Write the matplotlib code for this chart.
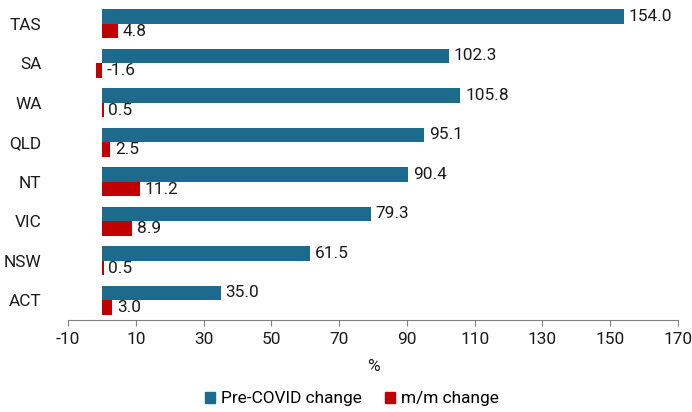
import matplotlib
matplotlib.use("Agg")
import matplotlib.pyplot as plt
import numpy as np
from matplotlib.patches import Patch

plt.rcParams['font.family'] = ['Roboto', 'DejaVu Sans']

states = ["TAS", "SA", "WA", "QLD", "NT", "VIC", "NSW", "ACT"]
pre_covid = [154.0, 102.3, 105.8, 95.1, 90.4, 79.3, 61.5, 35.0]
mm_change = [4.8, -1.6, 0.5, 2.5, 11.2, 8.9, 0.5, 3.0]
xticks = [-10, 10, 30, 50, 70, 90, 110, 130, 150, 170]

teal = "#1c6b8c"
red = "#c00000"
fs = 12.4
tc = "#1a1a1a"

fig = plt.figure(figsize=(6.92, 4.12), dpi=100)
ax = fig.add_axes([68/692, (412-320)/412, (678-68)/692, (320-4)/412])

n = len(states)
y = np.arange(n)[::-1].astype(float)
h = 0.37
ax.barh(y + h/2, pre_covid, height=h, color=teal)
ax.barh(y - h/2, mm_change, height=h, color=red)

for yi, v in zip(y, pre_covid):
    ax.text(max(v, 0) + 1.4, yi + h/2, f"{v:.1f}", va="center", ha="left", fontsize=fs, color=tc)
for yi, v in zip(y, mm_change):
    ax.text(max(v, 0) + 1.4, yi - h/2, f"{v:.1f}", va="center", ha="left", fontsize=fs, color=tc)

ax.set_xlim(-10, 170)
ax.set_ylim(-0.5, n - 0.5)
ax.set_xticks(xticks)
ax.set_xticklabels([str(t) for t in xticks], fontsize=fs, color=tc)
ax.set_yticks(y)
ax.set_yticklabels(states, fontsize=fs, color=tc)
ax.tick_params(axis="y", length=0, pad=19)
ax.tick_params(axis="x", length=4, color="#808080", pad=5, direction="out")
for s in ["top", "right", "left"]:
    ax.spines[s].set_visible(False)
ax.spines["bottom"].set_color("#808080")
ax.set_xlabel("%", fontsize=fs, color=tc, labelpad=8)

handles = [Patch(color=teal, label="Pre-COVID change"), Patch(color=red, label="m/m change")]
fig.legend(handles=handles, loc="center", bbox_to_anchor=(352/692, (412-399)/412), ncol=2,
           frameon=False, fontsize=fs, handlelength=0.6, handleheight=0.6,
           handletextpad=0.35, columnspacing=1.3, borderaxespad=0)

fig.savefig("out.png", dpi=100)
